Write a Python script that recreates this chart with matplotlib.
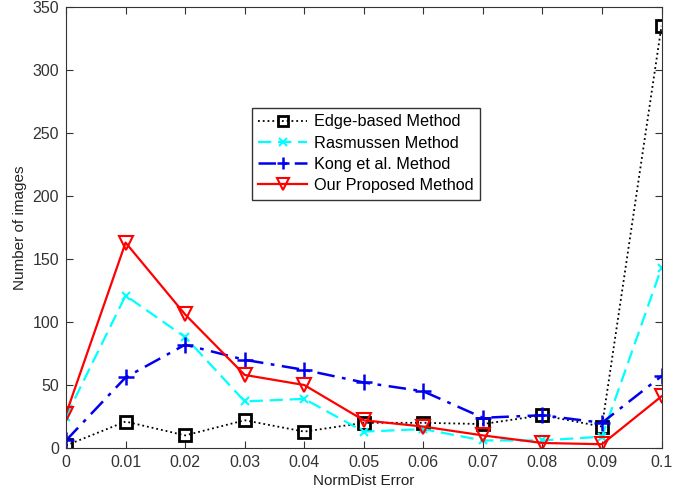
import matplotlib
matplotlib.use("Agg")
import matplotlib.pyplot as plt

plt.rcParams['font.family'] = ['Liberation Sans', 'DejaVu Sans']

x = [0, 0.01, 0.02, 0.03, 0.04, 0.05, 0.06, 0.07, 0.08, 0.09, 0.1]
edge = [2, 21, 10, 22, 13, 20, 20, 19, 26, 17, 335]
rasmussen = [25, 121, 88, 37, 39, 13, 15, 6, 6, 9, 143]
kong = [6, 56, 82, 70, 62, 52, 45, 24, 26, 20, 57]
ours = [27, 163, 106, 58, 50, 22, 17, 10, 4, 3, 41]

xticks = [0, 0.01, 0.02, 0.03, 0.04, 0.05, 0.06, 0.07, 0.08, 0.09, 0.1]
xticklabels = ['0', '0.01', '0.02', '0.03', '0.04', '0.05', '0.06', '0.07', '0.08', '0.09', '0.1']
yticks = [0, 50, 100, 150, 200, 250, 300, 350]

fig = plt.figure(figsize=(6.9, 4.9), dpi=100)
ax = fig.add_axes([0.0957, 0.0857, 0.863, 0.9])

ax.plot(x, edge, color='black', linestyle=':', linewidth=1.3, marker='s',
        markersize=8, markerfacecolor='none', markeredgewidth=2, label='Edge-based Method')
ax.plot(x, rasmussen, color='cyan', linestyle=(0, (6, 3)), linewidth=1.6, marker='x',
        markersize=6, markeredgewidth=1.5, label='Rasmussen Method')
ax.plot(x, kong, color='#0000ee', linestyle=(0, (7, 3, 1.5, 3)), linewidth=1.8, marker='+',
        markersize=11, markeredgewidth=1.8, label='Kong et al. Method')
ax.plot(x, ours, color='red', linestyle='-', linewidth=1.6, marker='v',
        markersize=10, markerfacecolor='none', markeredgewidth=1.5, label='Our Proposed Method')

ax.set_xlim(0, 0.1)
ax.set_ylim(0, 350)
ax.set_xticks(xticks)
ax.set_xticklabels(xticklabels)
ax.set_yticks(yticks)
ax.tick_params(direction='in', length=5, labelsize=11.5, colors='#333333', top=True, right=True, pad=5)
for s in ax.spines.values():
    s.set_color('#333333')
ax.set_xlabel('NormDist Error', fontsize=11, color='#222222', labelpad=3)
ax.set_ylabel('Number of images', fontsize=11, color='#222222')

leg = ax.legend(loc='upper left', bbox_to_anchor=(0.312, 0.771), fontsize=11.7,
                frameon=True, fancybox=False, edgecolor='black', handlelength=3,
                borderpad=0.4, labelspacing=0.38, handletextpad=0.4, borderaxespad=0,
                markerscale=0.85)
leg.get_frame().set_linewidth(1.0)

fig.savefig('out.png', dpi=100)
